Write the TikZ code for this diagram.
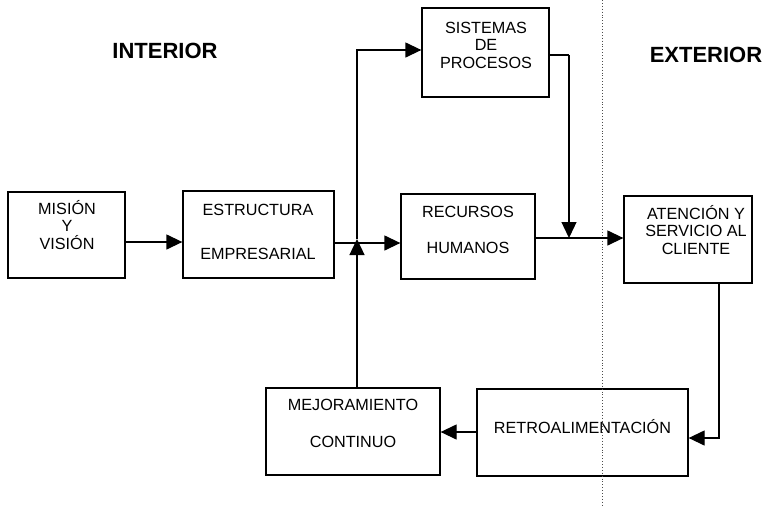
\documentclass[tikz,border=0pt]{standalone}
\usepackage{fontspec}
\setmainfont{Liberation Sans}
\usetikzlibrary{arrows.meta,calc}
\begin{document}
\begin{tikzpicture}[x=1pt,y=-1pt,
  box/.style={draw,line width=1.3pt,inner sep=0pt},
  txt/.style={align=center,font=\fontsize{16.2}{17.5}\selectfont,inner sep=0pt},
  ttl/.style={font=\fontsize{22}{26}\selectfont\bfseries,inner sep=0pt},
  conn/.style={line width=1.3pt},
  arr/.style={conn,-{Triangle[length=16pt,width=15pt]}}]
\useasboundingbox (0,0) rectangle (764,507);
\node[box,minimum width=117pt,minimum height=86pt] (mv) at (66.5,235) {};
\node[box,minimum width=151pt,minimum height=87pt] (est) at (258.5,234.5) {};
\node[box,minimum width=127pt,minimum height=89pt] (sp) at (485.5,52.5) {};
\node[box,minimum width=134pt,minimum height=85pt] (rec) at (468,236.5) {};
\node[box,minimum width=128pt,minimum height=87pt] (ate) at (688,239.5) {};
\node[box,minimum width=211pt,minimum height=87pt] (ret) at (582.5,432.5) {};
\node[box,minimum width=174pt,minimum height=87pt] (mej) at (353,431.5) {};
\node[txt] (mvT) at (67,225) {MISIÓN\\Y\\VISIÓN};
\node[txt] (estT) at (258,232) {ESTRUCTURA\\[27pt]EMPRESARIAL};
\node[txt] (spT) at (486,45) {SISTEMAS\\DE\\PROCESOS};
\node[txt] (recT) at (468,230) {RECURSOS\\[18pt]HUMANOS};
\node[txt] (ateT) at (696,230) {ATENCIÓN Y\\SERVICIO AL\\CLIENTE};
\node[txt] (mejT) at (353,423.5) {MEJORAMIENTO\\[19pt]CONTINUO};
\node[txt] (retT) at (582.5,427) {RETROALIMENTACIÓN};
\node[ttl] (int) at (165,51) {INTERIOR};
\node[ttl] (ext) at (706,55) {EXTERIOR};
\coordinate (top) at (602,0);
\coordinate (bot) at (602,507);
\draw[dotted,line width=0.9pt,black!70] (top) -- (bot);
\coordinate (J) at (357,243);
\coordinate (J1) at (357,239);
\coordinate (S) at (569,55);
\coordinate (H) at (569,238);
\coordinate (D) at (719,438);
\draw[arr] (mv.east |- 0,242) -- (est.west |- 0,242);
\draw[arr] (est.east |- J) -- (rec.west |- J);
\draw[arr] (mej.north -| J) -- (J1);
\draw[arr] (J1) |- (sp.west |- 0,50);
\draw[conn] (sp.east |- S) -- (S);
\draw[arr] (S) -- (H);
\draw[arr] (rec.east |- H) -- (ate.west |- H);
\draw[arr] (ate.south -| D) -- (D) -- (ret.east |- D);
\draw[arr] (ret.west |- 0,432) -- (mej.east |- 0,432);
\end{tikzpicture}
\end{document}
